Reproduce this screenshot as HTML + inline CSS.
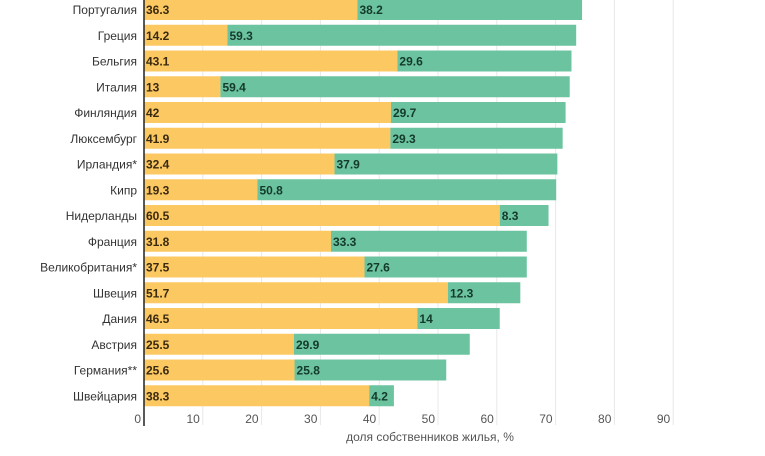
<!DOCTYPE html>
<html><head><meta charset="utf-8"><style>
body{margin:0;background:#fff;width:765px;height:451px;overflow:hidden;font-family:"Liberation Sans",sans-serif}
</style></head><body>
<svg id="c" width="765" height="451"></svg>
<script>
const countries=["Португалия","Греция","Бельгия","Италия","Финляндия","Люксембург","Ирландия*","Кипр","Нидерланды","Франция","Великобритания*","Швеция","Дания","Австрия","Германия**","Швейцария"];
const outright=[36.3,14.2,43.1,13,42,41.9,32.4,19.3,60.5,31.8,37.5,51.7,46.5,25.5,25.6,38.3];
const mortgage=[38.2,59.3,29.6,59.4,29.7,29.3,37.9,50.8,8.3,33.3,27.6,12.3,14,29.9,25.8,4.2];
const ticks=[0,10,20,30,40,50,60,70,80,90];
const svg=document.getElementById('c');const NS='http://www.w3.org/2000/svg';
const x0=144,ppu=5.88,top0=-1,pitch=25.75,bh=21;
const X=v=>x0+v*ppu;const Y=i=>top0+i*pitch;
function mk(t,a,txt){const e=document.createElementNS(NS,t);for(const k in a)e.setAttribute(k,a[k]);if(txt!==undefined)e.textContent=txt;svg.appendChild(e);return e;}
ticks.forEach(t=>{if(t>0){const g=mk('line',{x1:X(t),x2:X(t),y1:0,y2:425,stroke:'#e8e8e8','stroke-width':1});

}
const l=mk('text',{x:X(t)-3,y:423,'text-anchor':'end','font-size':12,fill:'#555'},t);

});
countries.forEach((c,i)=>{const y=Y(i);
const a=mk('rect',{x:X(0),y:y,width:X(outright[i])-X(0),height:bh,fill:'#fbc862'});


const b=mk('rect',{x:X(outright[i]),y:y,width:X(outright[i]+mortgage[i])-X(outright[i]),height:bh,fill:'#6cc3a0'});


const t1=mk('text',{x:X(0)+2,y:y+15,'font-size':12,fill:'#3a2a10','font-weight':'bold'},outright[i]);


const t2=mk('text',{x:X(outright[i])+2,y:y+15,'font-size':12,fill:'#143a2c','font-weight':'bold'},mortgage[i]);


const cl=mk('text',{x:137,y:y+15,'text-anchor':'end','font-size':12,fill:'#333'},c);

});
const ax=mk('line',{x1:X(0),x2:X(0),y1:0,y2:426,stroke:'#222','stroke-width':1.5});


const tt=mk('text',{x:430,y:441,'text-anchor':'middle','font-size':12,fill:'#555'},'доля собственников жилья, %');


</script></body></html>
